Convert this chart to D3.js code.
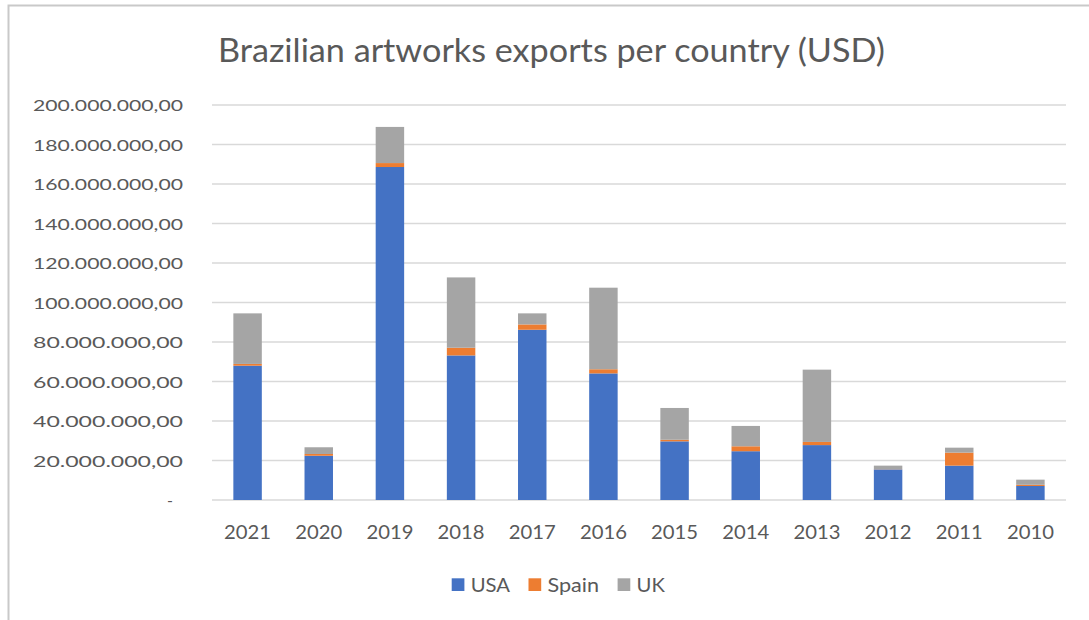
<!DOCTYPE html>
<html>
<head>
<meta charset="utf-8">
<script src="https://cdn.jsdelivr.net/npm/d3@7"></script>
<style>
  html, body { margin: 0; padding: 0; background: #fff; }
  svg { display: block; }
  text { font-family: Lato, "Open Sans", sans-serif; fill: #595959; }
</style>
</head>
<body>
<svg id="chart" width="1089" height="620"></svg>
<script>
// Export values per destination, in USD
const years = ["2021", "2020", "2019", "2018", "2017", "2016", "2015", "2014", "2013", "2012", "2011", "2010"];
const usa   = [68.0e6, 22.4e6, 168.6e6, 73.2e6, 86.2e6, 64.1e6, 29.7e6, 24.7e6, 27.8e6, 15.5e6, 17.4e6, 7.1e6];
const spain = [0.9e6, 0.9e6, 2.0e6, 3.9e6, 2.7e6, 2.1e6, 0.8e6, 2.5e6, 1.6e6, 0.1e6, 6.6e6, 0.6e6];
const uk    = [25.6e6, 3.4e6, 18.3e6, 35.6e6, 5.6e6, 41.3e6, 16.1e6, 10.3e6, 36.6e6, 1.8e6, 2.5e6, 2.6e6];
const seriesNames = ["USA", "Spain", "UK"];
const yTicks = [0, 20e6, 40e6, 60e6, 80e6, 100e6, 120e6, 140e6, 160e6, 180e6, 200e6];
const chartTitle = "Brazilian artworks exports per country (USD)";

const colors = { USA: "#4472C4", Spain: "#ED7D31", UK: "#A5A5A5" };

const svg = d3.select("#chart");

// chart frame (top and left edges visible)
svg.append("rect")
  .attr("x", 8.5).attr("y", 5.5)
  .attr("width", 1100).attr("height", 700)
  .attr("fill", "none")
  .attr("stroke", "#C9C9C9")
  .attr("stroke-width", 2);

const plot = { left: 212, right: 1066, top: 105, bottom: 500 };

const x = d3.scaleBand()
  .domain(years)
  .range([plot.left, plot.right])
  .paddingInner(0.6)
  .paddingOuter(0.3);

const y = d3.scaleLinear()
  .domain([0, 200e6])
  .range([plot.bottom, plot.top]);

// value table for the stack
const rows = years.map((yr, i) => ({ year: yr, USA: usa[i], Spain: spain[i], UK: uk[i] }));
const stacked = d3.stack().keys(seriesNames)(rows);

// number format with dot thousands and comma decimals
const locale = d3.formatLocale({ decimal: ",", thousands: ".", grouping: [3], currency: ["", ""] });
const fmt = locale.format(",.2f");

// gridlines
svg.append("g")
  .selectAll("line")
  .data(yTicks)
  .join("line")
  .attr("x1", plot.left).attr("x2", plot.right)
  .attr("y1", d => y(d)).attr("y2", d => y(d))
  .attr("stroke", "#D9D9D9")
  .attr("stroke-width", 1.5);

// y axis labels
const yAxis = svg.append("g")
  .attr("transform", `translate(${183},0)`)
  .call(d3.axisLeft(y).tickValues(yTicks).tickSize(0).tickPadding(0)
    .tickFormat(d => d === 0 ? "-" : fmt(d)));
yAxis.select(".domain").remove();
yAxis.selectAll("text")
  .attr("font-family", "Lato, 'Open Sans', sans-serif")
  .attr("font-size", 16)
  .attr("fill", "#595959")
  .attr("dy", "0.36em")
  .each(function (d) {
    if (d === 0) {
      d3.select(this).attr("x", -10);
    } else {
      d3.select(this).attr("textLength", 150).attr("lengthAdjust", "spacingAndGlyphs");
    }
  });

// stacked bars
svg.append("g")
  .selectAll("g")
  .data(stacked)
  .join("g")
  .attr("fill", d => colors[d.key])
  .selectAll("rect")
  .data(d => d)
  .join("rect")
  .attr("x", d => x(d.data.year))
  .attr("width", x.bandwidth())
  .attr("y", d => y(d[1]))
  .attr("height", d => y(d[0]) - y(d[1]));

// x axis labels
const xAxis = svg.append("g")
  .attr("transform", `translate(0,${520})`)
  .call(d3.axisBottom(x).tickSize(0).tickPadding(0));
xAxis.select(".domain").remove();
xAxis.selectAll("text")
  .attr("font-family", "Lato, 'Open Sans', sans-serif")
  .attr("font-size", 20)
  .attr("fill", "#595959")
  .attr("dy", "0.71em")
  .attr("y", 5)
  .attr("textLength", 47)
  .attr("lengthAdjust", "spacingAndGlyphs");

// title
svg.append("text")
  .attr("x", 551.5)
  .attr("y", 62)
  .attr("text-anchor", "middle")
  .attr("font-size", 32.5)
  .attr("textLength", 667)
  .attr("lengthAdjust", "spacingAndGlyphs")
  .text(chartTitle);

// legend
const legendWidths = { USA: 39.3, Spain: 51.6, UK: 28.3 };
const sq = 12.7;
const legend = svg.append("g");
let cx = 451.7;
seriesNames.forEach(name => {
  legend.append("rect")
    .attr("x", cx).attr("y", 578.3)
    .attr("width", sq).attr("height", sq)
    .attr("fill", colors[name]);
  legend.append("text")
    .attr("x", cx + 19)
    .attr("y", 591.6)
    .attr("font-size", 18.5)
    .attr("textLength", legendWidths[name])
    .attr("lengthAdjust", "spacingAndGlyphs")
    .text(name);
  cx += 19 + legendWidths[name] + 18.5;
});
</script>
</body>
</html>
